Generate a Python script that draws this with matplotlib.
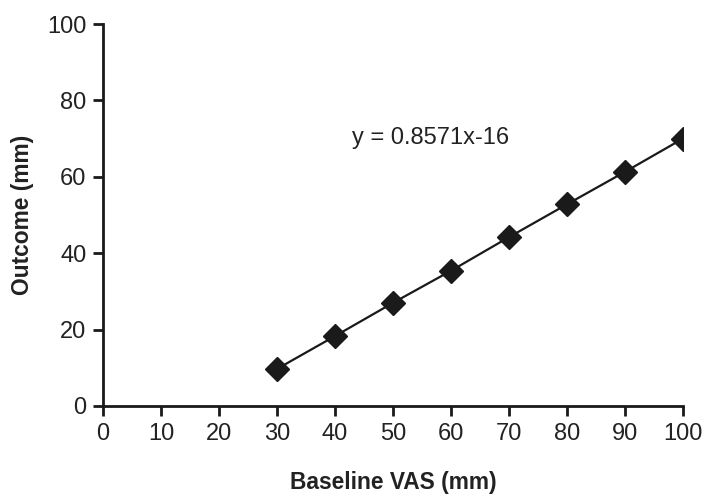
import numpy as np
import matplotlib
matplotlib.use('Agg')
from matplotlib import pyplot as plt

plt.rcParams['font.family'] = ['Liberation Sans', 'DejaVu Sans']

baseline = [30, 40, 50, 60, 70, 80, 90, 100]
outcome = [9.7, 18.3, 27.0, 35.4, 44.2, 52.8, 61.3, 70.0]
xTicks = [0, 10, 20, 30, 40, 50, 60, 70, 80, 90, 100]
yTicks = [0, 20, 40, 60, 80, 100]

fig = plt.figure(figsize=(7.03, 4.97), dpi=100)
ax = fig.add_axes([0.1465, 0.1831, 0.825, 0.7686])

ax.plot(baseline, outcome, '-', color='#1a1a1a', lw=1.6,
        marker='D', markersize=12.5, markerfacecolor='#1a1a1a', markeredgecolor='#1a1a1a')
ax.text(42.9, 70.2, 'y = 0.8571x-16', fontsize=17, color='#222222', va='center', ha='left')

ax.set_xlim(0, 100)
ax.set_ylim(0, 100)
ax.set_xticks(xTicks)
ax.set_yticks(yTicks)
for s in ['top', 'right']:
    ax.spines[s].set_visible(False)
for s in ['left', 'bottom']:
    ax.spines[s].set_linewidth(2)
    ax.spines[s].set_color('#1a1a1a')
ax.tick_params(direction='out', length=7, width=2, color='#1a1a1a',
               labelsize=17, labelcolor='#222222', pad=5)
ax.set_xlabel('Baseline VAS (mm)', fontsize=16.4, fontweight='bold', labelpad=19, color='#222222')
ax.set_ylabel('Outcome (mm)', fontsize=16.4, fontweight='bold', labelpad=9, color='#222222')

plt.savefig('out.png', dpi=100)
